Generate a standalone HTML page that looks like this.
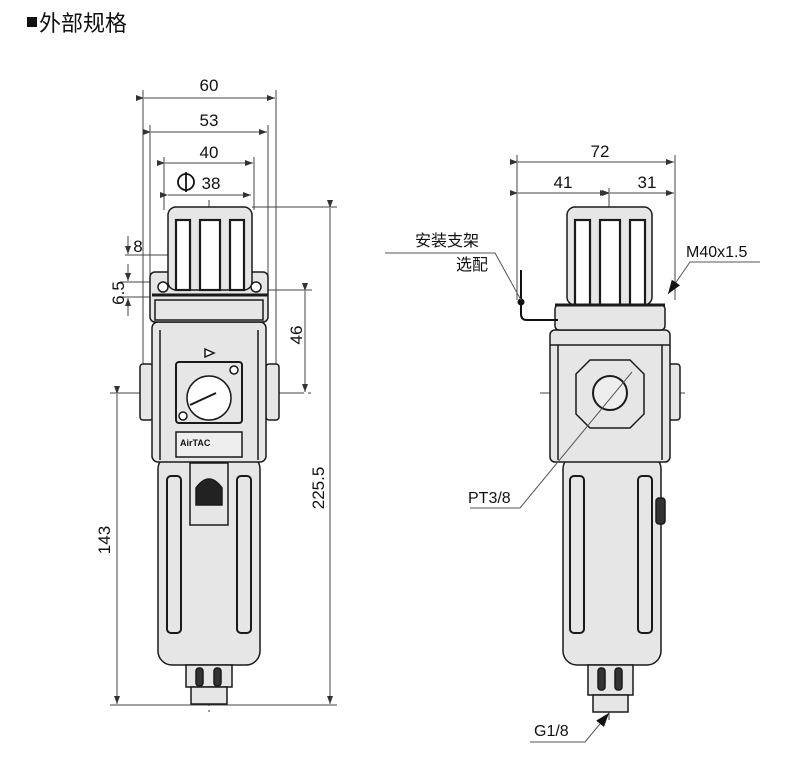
<!DOCTYPE html>
<html><head><meta charset="utf-8"><style>
html,body{margin:0;padding:0;background:#fff;}
svg{display:block;}
text{font-family:"Liberation Sans","Noto Sans CJK SC",sans-serif;fill:#111;}
</style></head><body>
<svg width="790" height="763" viewBox="0 0 790 763" xmlns="http://www.w3.org/2000/svg">
<defs>
<marker id="a" markerWidth="8" markerHeight="6" refX="8" refY="3" orient="auto" markerUnits="userSpaceOnUse"><path d="M0,0 L8,3 L0,6 z" fill="#333"/></marker>
<marker id="b" markerWidth="14" markerHeight="10" refX="14" refY="5" orient="auto" markerUnits="userSpaceOnUse"><path d="M0,0 L14,5 L0,10 z" fill="#111"/></marker>
</defs>
<rect x="27" y="17" width="10" height="10" fill="#111"/>
<text x="39" y="31" font-size="22">外部规格</text>

<g stroke="#444" stroke-width="1" fill="none">
<line x1="143" y1="90" x2="143" y2="395"/><line x1="276" y1="90" x2="276" y2="395"/>
<line x1="144" y1="98" x2="275" y2="98" marker-start="url(#a)" marker-end="url(#a)"/>
<line x1="150" y1="125" x2="150" y2="275"/><line x1="268" y1="125" x2="268" y2="275"/>
<line x1="151" y1="132" x2="267" y2="132" marker-start="url(#a)" marker-end="url(#a)"/>
<line x1="164" y1="157" x2="164" y2="210"/><line x1="254" y1="157" x2="254" y2="210"/>
<line x1="165" y1="163" x2="253" y2="163" marker-start="url(#a)" marker-end="url(#a)"/>
<line x1="168" y1="195" x2="251" y2="195" marker-start="url(#a)" marker-end="url(#a)"/>
<line x1="252" y1="207" x2="337" y2="207"/>
<line x1="330" y1="208" x2="330" y2="704" marker-start="url(#a)" marker-end="url(#a)"/>
<line x1="265" y1="290" x2="312" y2="290"/>
<line x1="305" y1="291" x2="305" y2="392" marker-start="url(#a)" marker-end="url(#a)"/>
<line x1="110" y1="393" x2="312" y2="393" stroke-dasharray="30,4,3,4"/>
<line x1="117" y1="394" x2="117" y2="704" marker-start="url(#a)" marker-end="url(#a)"/>
<line x1="110" y1="705" x2="337" y2="705"/>
<line x1="125" y1="255" x2="215" y2="255"/>
<line x1="128" y1="236" x2="128" y2="254" marker-end="url(#a)"/>
<line x1="120" y1="282" x2="165" y2="282"/><line x1="120" y1="297" x2="165" y2="297"/>
<line x1="128" y1="264" x2="128" y2="281" marker-end="url(#a)"/>
<line x1="128" y1="316" x2="128" y2="298" marker-end="url(#a)"/>
<line x1="209" y1="200" x2="209" y2="712" stroke-dasharray="40,4,3,4"/>

<line x1="517" y1="155" x2="517" y2="300"/><line x1="675" y1="155" x2="675" y2="300"/>
<line x1="518" y1="162" x2="674" y2="162" marker-start="url(#a)" marker-end="url(#a)"/>
<line x1="518" y1="193" x2="608" y2="193" marker-start="url(#a)" marker-end="url(#a)"/>
<line x1="610" y1="193" x2="674" y2="193" marker-start="url(#a)" marker-end="url(#a)"/>
<line x1="609" y1="188" x2="609" y2="720" stroke-dasharray="40,4,3,4"/>
<line x1="540" y1="393" x2="685" y2="393" stroke-dasharray="30,4,3,4"/>
</g>
<g font-size="17" text-anchor="middle">
<text x="209" y="91">60</text><text x="209" y="126">53</text><text x="209" y="158">40</text>
<text x="211" y="189">38</text>
<text x="600" y="157">72</text><text x="563" y="188">41</text><text x="647" y="188">31</text>
<text x="138" y="252">8</text>
<text transform="translate(124,293) rotate(-90)">6.5</text>
<text transform="translate(302,335) rotate(-90)">46</text>
<text transform="translate(110,540) rotate(-90)">143</text>
<text transform="translate(324,488) rotate(-90)">225.5</text>
</g>
<circle cx="186" cy="182" r="8" fill="none" stroke="#111" stroke-width="1.8"/><line x1="186" y1="172" x2="186" y2="192" stroke="#111" stroke-width="1.8"/>

<g stroke="#1a1a1a" stroke-width="1.5" fill="#e6e6e6">
<rect x="158" y="455" width="102" height="210" rx="14"/>
<rect x="167" y="476" width="14" height="157" rx="4" fill="none" stroke-width="2"/>
<rect x="237" y="476" width="14" height="157" rx="4" fill="none" stroke-width="2"/>
<rect x="190" y="463" width="38" height="62"/>
<path d="M196,505 L196,488 Q209,470 222,488 L222,505 z" fill="#222"/>
<rect x="186" y="665" width="46" height="22"/>
<rect x="191" y="687" width="36" height="17"/>
<rect x="196" y="668" width="7" height="18" rx="3" fill="#333"/><rect x="214" y="668" width="7" height="18" rx="3" fill="#333"/>
<rect x="140" y="364" width="13" height="56" rx="3"/>
<rect x="266" y="364" width="13" height="56" rx="3"/>
<rect x="152" y="322" width="114" height="140" rx="6"/>
<line x1="160" y1="330" x2="160" y2="460"/><line x1="258" y1="330" x2="258" y2="460"/>
<rect x="176" y="362" width="66" height="61" rx="3" stroke-width="2"/>
<circle cx="209" cy="398" r="22" fill="#fff"/>
<line x1="190" y1="405" x2="216" y2="393" stroke-width="2"/>
<circle cx="234" cy="370" r="4" fill="#fff"/><circle cx="183" cy="416" r="4" fill="#fff"/>
<path d="M205,349 L214,353 L205,357 z" fill="#fff"/>
<rect x="176" y="432" width="66" height="25" fill="#eee"/>
<rect x="150" y="272" width="118" height="50" rx="5"/>
<rect x="155" y="300" width="108" height="20" fill="none"/>
<rect x="168" y="207" width="84" height="83" rx="8"/>
<rect x="176" y="220" width="14" height="70" fill="#fff" stroke-width="2.2"/>
<rect x="200" y="220" width="20" height="70" fill="#fff" stroke-width="2.2"/>
<rect x="230" y="220" width="14" height="70" fill="#fff" stroke-width="2.2"/>
<line x1="152" y1="295" x2="268" y2="295" stroke-width="3"/>
<circle cx="163" cy="287" r="5" fill="#fff"/><circle cx="256" cy="287" r="5" fill="#fff"/>
</g>
<text x="180" y="446" font-size="9" font-weight="bold">AirTAC</text>

<g stroke="#1a1a1a" stroke-width="1.5" fill="#e6e6e6">
<rect x="563" y="455" width="98" height="210" rx="14"/>
<rect x="570" y="476" width="14" height="157" rx="4" fill="none" stroke-width="2"/>
<rect x="638" y="476" width="14" height="157" rx="4" fill="none" stroke-width="2"/>
<rect x="656" y="498" width="9" height="26" rx="3" fill="#333"/>
<rect x="588" y="665" width="45" height="30"/>
<rect x="593" y="695" width="35" height="17"/>
<rect x="598" y="668" width="7" height="22" rx="3" fill="#333"/><rect x="615" y="668" width="7" height="22" rx="3" fill="#333"/>
<rect x="668" y="364" width="12" height="56" rx="3"/>
<rect x="550" y="330" width="120" height="132" rx="5"/>
<line x1="558" y1="345" x2="558" y2="460"/><line x1="662" y1="345" x2="662" y2="460"/>
<line x1="550" y1="345" x2="670" y2="345"/>
<path d="M590,360 L630,360 L644,374 L644,414 L630,428 L590,428 L576,414 L576,374 z" fill="none"/>
<circle cx="610" cy="393" r="17" fill="#eee" stroke-width="2"/>
<rect x="555" y="305" width="110" height="25" rx="4"/>
<rect x="567" y="207" width="85" height="98" rx="8"/>
<rect x="575" y="220" width="15" height="85" fill="#fff" stroke-width="2.2"/>
<rect x="600" y="220" width="20" height="85" fill="#fff" stroke-width="2.2"/>
<rect x="630" y="220" width="15" height="85" fill="#fff" stroke-width="2.2"/>
<line x1="555" y1="305" x2="665" y2="305" stroke-width="3"/>
</g>
<path d="M521,270 L521,314 Q521,320 527,320 L558,320" fill="none" stroke="#111" stroke-width="2"/>
<circle cx="521" cy="302" r="3.5" fill="#111"/>
<g fill="none" stroke="#555" stroke-width="1">
<path d="M385,253 L495,253 L521,300"/>
<path d="M760,262 L690,262 L668,294" marker-end="url(#b)"/>
<path d="M470,508 L520,508 L632,372"/>
<path d="M530,742 L585,742 L609,713" marker-end="url(#b)"/>
</g>
<g font-size="16">
<text x="415" y="246">安装支架</text>
<text x="456" y="270">选配</text>
<text x="686" y="257">M40x1.5</text>
<text x="468" y="503">PT3/8</text>
<text x="534" y="736">G1/8</text>
</g>
</svg>
</body></html>
